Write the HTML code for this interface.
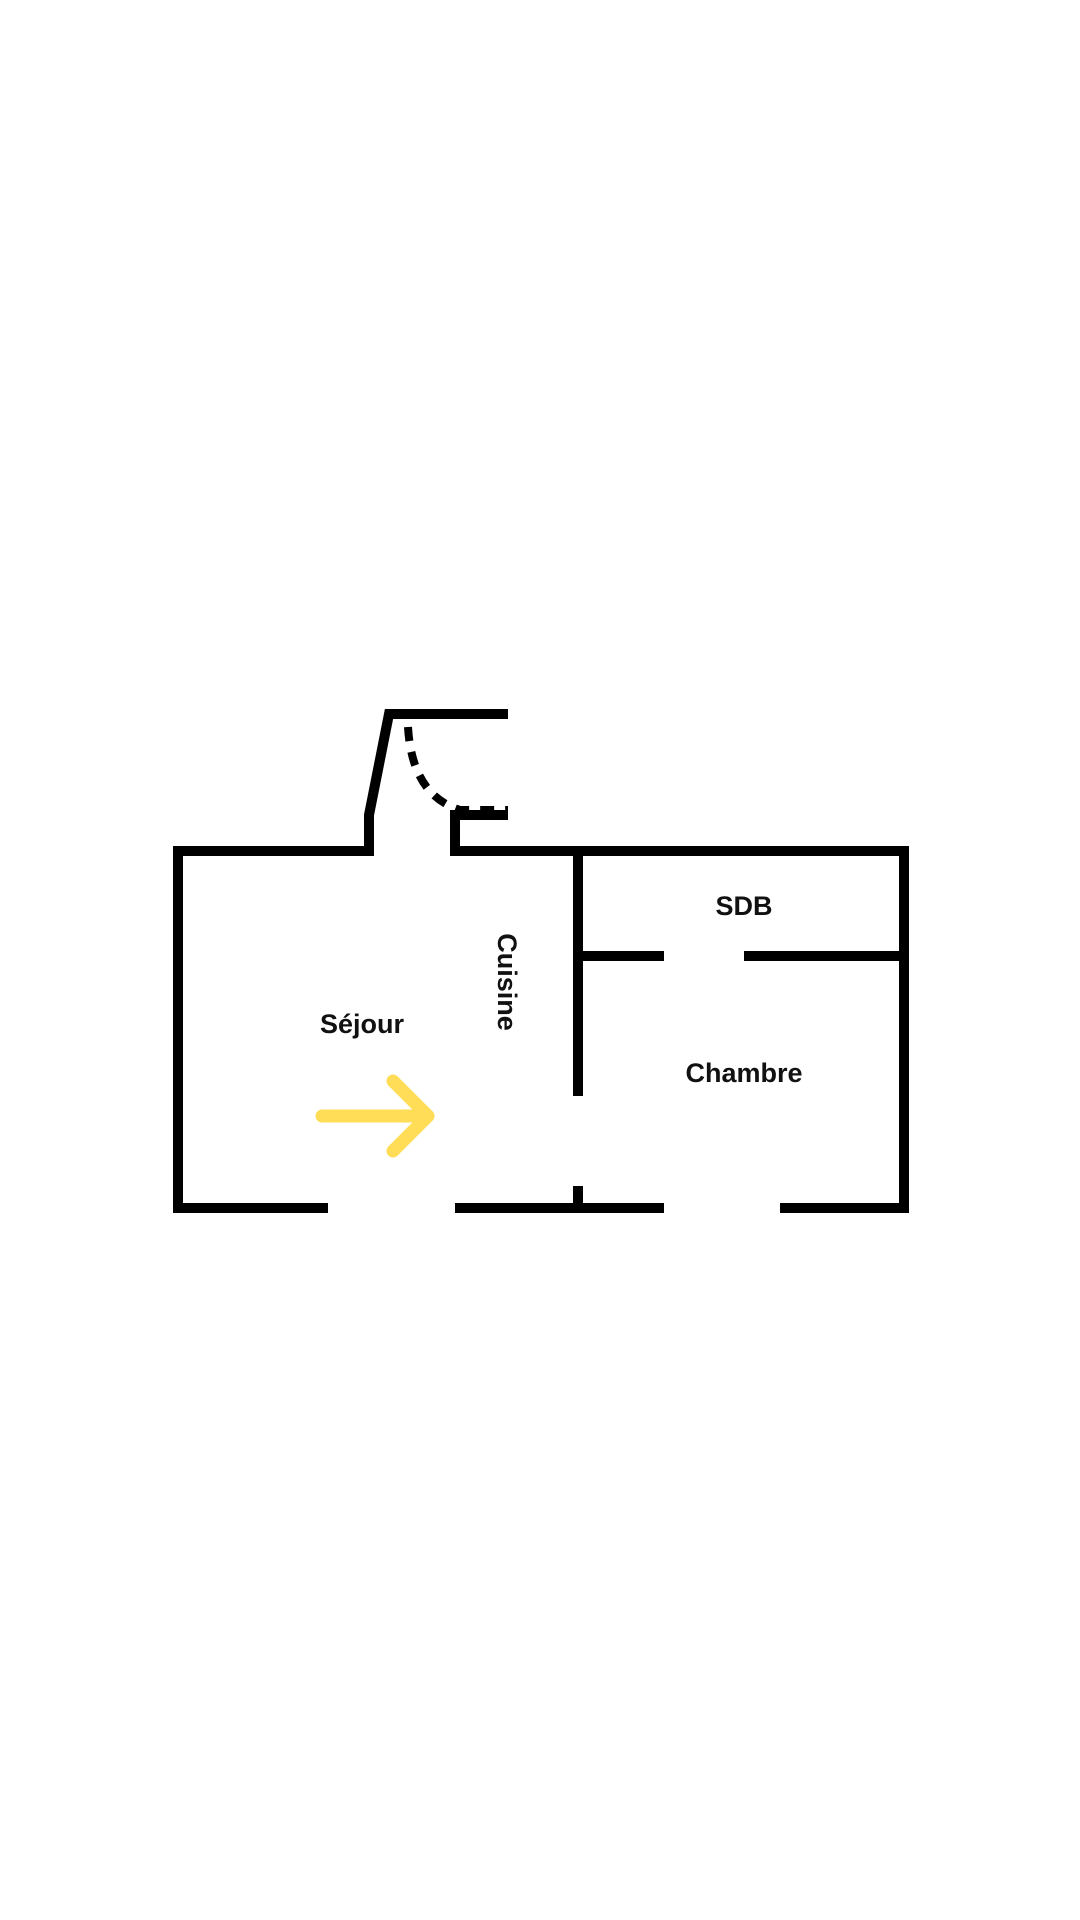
<!DOCTYPE html>
<html><head><meta charset="utf-8"><style>
html,body{margin:0;padding:0;background:#fff;}
svg{display:block}
text{font-family:"Liberation Sans",sans-serif;font-weight:bold;font-size:27px;fill:#111;}
</style></head><body>
<svg width="1080" height="1920" viewBox="0 0 1080 1920">
<g fill="none" stroke="#000" stroke-width="10" stroke-linecap="butt" stroke-linejoin="miter">
<polyline points="328,1208 178,1208 178,851 369,851 369,815 389,714 508,714"/>
<polyline points="508,815 455,815 455,851 904,851 904,1208 780,1208"/>
<line x1="455" y1="1208" x2="664" y2="1208"/>
<line x1="578" y1="851" x2="578" y2="1096"/>
<line x1="578" y1="1186" x2="578" y2="1208"/>
<line x1="578" y1="956" x2="664" y2="956"/>
<line x1="744" y1="956" x2="904" y2="956"/>
<path d="M408,727 Q412,795 460,810 L508,810" stroke-width="8" stroke-dasharray="14,11"/>
</g>
<g fill="none" stroke="#FFDD57" stroke-width="13" stroke-linecap="round" stroke-linejoin="round">
<line x1="322" y1="1116" x2="428" y2="1116"/>
<polyline points="393,1081 428,1116 393,1151"/>
</g>
<text x="362" y="1033" text-anchor="middle">Séjour</text>
<text x="0" y="0" text-anchor="middle" transform="translate(498,982) rotate(90)">Cuisine</text>
<text x="744" y="915" text-anchor="middle">SDB</text>
<text x="744" y="1082" text-anchor="middle">Chambre</text>
</svg>
</body></html>
